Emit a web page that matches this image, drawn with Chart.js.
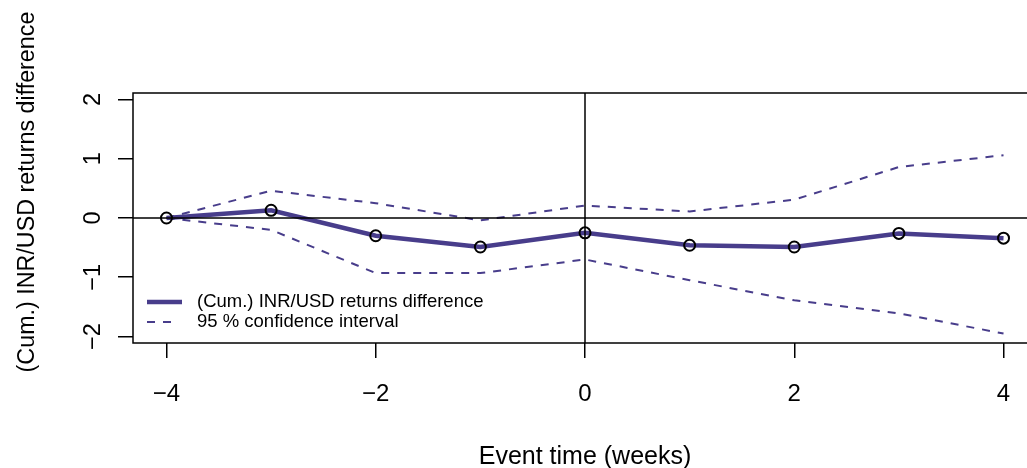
<!DOCTYPE html>
<html>
<head>
<meta charset="utf-8">
<script src="https://cdn.jsdelivr.net/npm/chart.js@4/dist/chart.umd.min.js"></script>
<style>
    html, body { margin: 0; padding: 0; background: #fff; }
    #frame { width: 1027px; height: 468px; overflow: hidden; position: relative; }
    #chart { display: block; position: absolute; left: 0; top: 0; }
</style>
</head>
<body>
<div id="frame"><canvas id="chart" width="1037" height="468"></canvas></div>
<script>
const eventWeeks = [-4, -3, -2, -1, 0, 1, 2, 3, 4];
const cumDiff = [0, 0.13, -0.30, -0.49, -0.25, -0.46, -0.49, -0.26, -0.34];
const ciUpper = [0, 0.46, 0.25, -0.04, 0.21, 0.11, 0.31, 0.86, 1.06];
const ciLower = [0, -0.20, -0.93, -0.93, -0.70, -1.05, -1.39, -1.61, -1.95];

const xTicks = [-4, -2, 0, 2, 4];
const xTickLabels = ["\u22124", "\u22122", "0", "2", "4"];
const yTicks = [-2, -1, 0, 1, 2];
const yTickLabels = ["\u22122", "\u22121", "0", "1", "2"];

const eventLine = 0;
const zeroLine = 0;

const mainLabel = "(Cum.) INR/USD returns difference";
const ciLabel = "95 % confidence interval";
const xTitle = "Event time (weeks)";
const yTitle = "(Cum.) INR/USD returns difference";

const lineColor = "#483d8b";
const fontFamily = "'Liberation Sans', Arial, sans-serif";

function toPoints(values) {
    return eventWeeks.map((w, i) => ({ x: w, y: values[i] }));
}

// box, abline(h = 0), abline(v = 0), legend and y label
const rBasePlot = {
    id: "rBasePlot",
    afterDatasetsDraw(chart) {
        const { ctx, chartArea: a, scales: { x, y } } = chart;
        const x0 = x.getPixelForValue(eventLine);
        const y0 = y.getPixelForValue(zeroLine);
        ctx.save();
        ctx.strokeStyle = "#000";
        ctx.lineWidth = 1.5;
        ctx.beginPath();
        ctx.moveTo(x0, a.top);
        ctx.lineTo(x0, a.bottom);
        ctx.moveTo(a.left, y0);
        ctx.lineTo(a.right, y0);
        ctx.stroke();
        ctx.strokeRect(a.left, a.top, a.right - a.left, a.bottom - a.top);
        ctx.restore();
    },
    afterDraw(chart) {
        const { ctx } = chart;
        const sets = chart.data.datasets;
        ctx.save();

        // legend, bottom left inside the plot
        ctx.font = "18.5px " + fontFamily;
        ctx.fillStyle = "#000";
        ctx.textAlign = "left";
        ctx.textBaseline = "middle";

        ctx.strokeStyle = sets[0].borderColor;
        ctx.lineWidth = sets[0].borderWidth;
        ctx.beginPath();
        ctx.moveTo(147, 302);
        ctx.lineTo(182, 302);
        ctx.stroke();
        ctx.fillText(sets[0].label, 197, 302);

        ctx.strokeStyle = sets[1].borderColor;
        ctx.lineWidth = sets[1].borderWidth;
        ctx.setLineDash(sets[1].borderDash);
        ctx.beginPath();
        ctx.moveTo(147, 322);
        ctx.lineTo(172, 322);
        ctx.stroke();
        ctx.setLineDash([]);
        ctx.fillText(sets[1].label, 197, 322);

        // y axis title
        ctx.font = "23.3px " + fontFamily;
        ctx.textAlign = "center";
        ctx.translate(28, 192);
        ctx.rotate(-Math.PI / 2);
        ctx.fillText(yTitle, 0, 0);
        ctx.restore();
    }
};

new Chart(document.getElementById("chart"), {
    type: "line",
    data: {
        datasets: [
            {
                label: mainLabel,
                data: toPoints(cumDiff),
                borderColor: lineColor,
                borderWidth: 4.5,
                pointRadius: 5.5,
                pointBorderWidth: 2,
                pointBorderColor: "#000",
                pointBackgroundColor: "rgba(0,0,0,0)",
                tension: 0,
                order: 0
            },
            {
                label: ciLabel,
                data: toPoints(ciUpper),
                borderColor: lineColor,
                borderWidth: 2,
                borderDash: [8, 8],
                pointRadius: 0,
                tension: 0,
                order: 1
            },
            {
                label: ciLabel,
                data: toPoints(ciLower),
                borderColor: lineColor,
                borderWidth: 2,
                borderDash: [8, 8],
                pointRadius: 0,
                tension: 0,
                order: 1
            }
        ]
    },
    options: {
        responsive: false,
        animation: false,
        events: [],
        layout: { autoPadding: false, padding: { top: 93, left: 0, right: 0, bottom: 0 } },
        plugins: {
            legend: { display: false },
            tooltip: { enabled: false }
        },
        scales: {
            x: {
                type: "linear",
                min: -4.32,
                max: 4.32,
                afterBuildTicks: (scale) => { scale.ticks = xTicks.map(v => ({ value: v })); },
                afterFit: (scale) => { scale.height = 125; scale.paddingRight = 0; scale.paddingLeft = 0; },
                grid: { display: true, drawOnChartArea: false, drawTicks: true, tickLength: 15, color: "#000", lineWidth: 1.5 },
                border: { display: false },
                ticks: {
                    autoSkip: false,
                    maxRotation: 0,
                    padding: 22,
                    color: "#000",
                    font: { family: fontFamily, size: 24 },
                    callback: (value, index) => xTickLabels[index]
                },
                title: {
                    display: true,
                    text: xTitle,
                    color: "#000",
                    font: { family: fontFamily, size: 25 },
                    padding: { top: 0, bottom: -4 }
                }
            },
            y: {
                type: "linear",
                min: -2.11,
                max: 2.11,
                afterBuildTicks: (scale) => { scale.ticks = yTicks.map(v => ({ value: v })); },
                afterFit: (scale) => { scale.width = 133; },
                grid: { display: true, drawOnChartArea: false, drawTicks: true, tickLength: 15, color: "#000", lineWidth: 1.5 },
                border: { display: false },
                ticks: {
                    autoSkip: false,
                    minRotation: 90,
                    maxRotation: 90,
                    crossAlign: "center",
                    padding: 11,
                    color: "#000",
                    font: { family: fontFamily, size: 23.5 },
                    callback: (value, index) => yTickLabels[index]
                }
            }
        }
    },
    plugins: [rBasePlot]
});
</script>
</body>
</html>
